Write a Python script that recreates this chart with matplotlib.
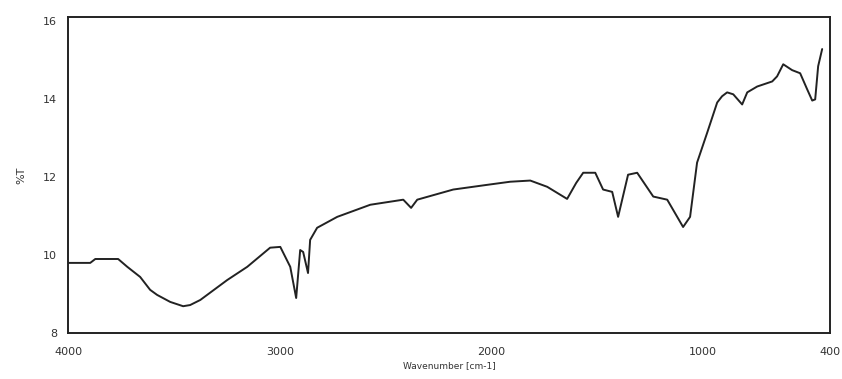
import numpy as np
import matplotlib
matplotlib.use("Agg")
import matplotlib.pyplot as plt

# wavenumber (cm-1) and transmittance
wavenumber = [4000, 3896, 3872, 3764, 3721, 3660, 3613, 3580, 3518, 3457,
              3424, 3376, 3249, 3154, 3046, 2998, 2951, 2923, 2904, 2890,
              2867, 2857, 2824, 2729, 2573, 2417, 2380, 2351, 2181, 2021,
              1912, 1817, 1737, 1643, 1600, 1567, 1510, 1473, 1430, 1402,
              1355, 1312, 1236, 1170, 1095, 1062, 1029, 981, 934, 911,
              887, 858, 816, 792, 745, 674, 651, 622, 580, 542,
              509, 485, 471, 457, 438]
transmittance = [9.80, 9.80, 9.90, 9.90, 9.70, 9.44, 9.11, 8.98, 8.80, 8.69,
                 8.72, 8.85, 9.36, 9.70, 10.19, 10.21, 9.70, 8.90, 10.13, 10.08,
                 9.54, 10.39, 10.70, 10.98, 11.29, 11.42, 11.21, 11.42, 11.68, 11.80,
                 11.88, 11.91, 11.75, 11.44, 11.85, 12.11, 12.11, 11.68, 11.62, 10.98,
                 12.06, 12.11, 11.50, 11.42, 10.72, 10.98, 12.37, 13.14, 13.91, 14.07,
                 14.17, 14.12, 13.86, 14.17, 14.32, 14.45, 14.58, 14.89, 14.74, 14.66,
                 14.25, 13.96, 13.99, 14.84, 15.28]

x_ticks = [4000, 3000, 2000, 1000, 400]
x_tick_labels = ["4000", "3000", "2000", "1000", "400"]
y_ticks = [8, 10, 12, 14, 16]

fig = plt.figure(figsize=(8.42, 3.79), dpi=100)
ax = fig.add_axes([0.081, 0.121, 0.905, 0.834])

ax.plot(wavenumber, transmittance, color="#222222", lw=1.4,
        solid_joinstyle="round", solid_capstyle="round")

ax.set_xlim(4000, 400)
ax.set_ylim(8, 16.1)
ax.set_xticks(x_ticks)
ax.set_xticklabels(x_tick_labels)
ax.set_yticks(y_ticks)
ax.tick_params(length=0, labelsize=8, colors="#333333")
ax.tick_params(axis="x", pad=10)
ax.tick_params(axis="y", pad=8)

for s in ax.spines.values():
    s.set_color("#222222")
    s.set_linewidth(1.4)

ax.set_xlabel("Wavenumber [cm-1]", fontsize=6.5, color="#333333", labelpad=3)
ax.set_ylabel("%T", fontsize=8, color="#333333", labelpad=12)

fig.savefig("out.png", dpi=100)
